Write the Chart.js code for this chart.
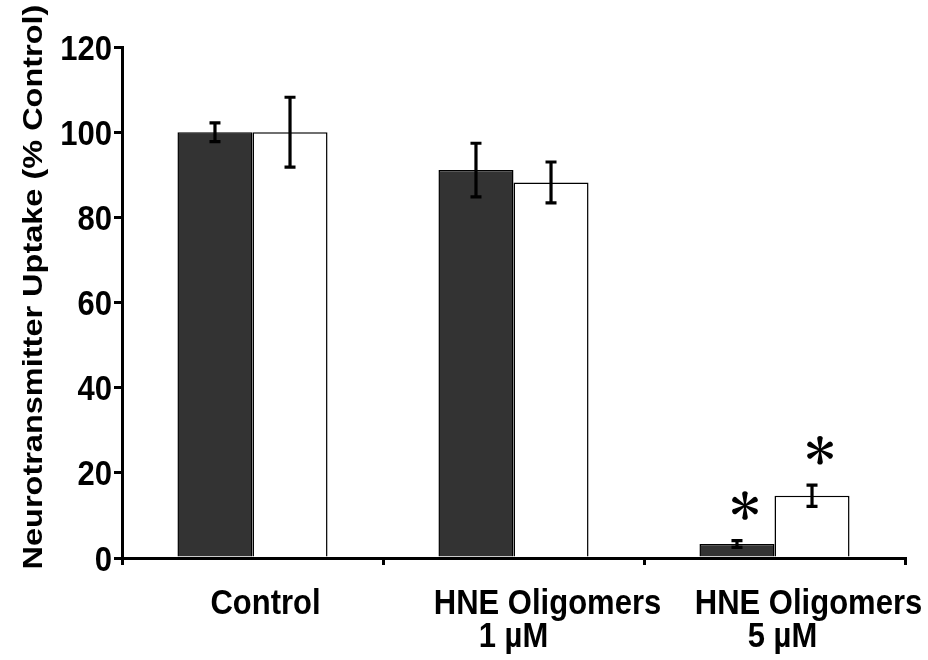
<!DOCTYPE html>
<html>
<head>
<meta charset="utf-8">
<script src="https://cdn.jsdelivr.net/npm/chart.js@4/dist/chart.umd.min.js"></script>
<style>
  html, body { margin: 0; padding: 0; background: #fff; }
  #wrap { width: 928px; height: 660px; }
</style>
</head>
<body>
<div id="wrap"><canvas id="c" width="928" height="660"></canvas></div>
<script>
// Treatment groups (each entry is one line of the axis label)
const categories = [['Control'], ['HNE Oligomers', '1 \u00b5M'], ['HNE Oligomers', '5 \u00b5M']];
// Uptake, % of control: filled (dark) bars and open (white) bars
const darkValues = [100, 91.1, 3.3];
const darkErrors = [2.2, 6.3, 0.8];
const openValues = [100, 88.2, 14.6];
const openErrors = [8.2, 4.8, 2.5];
// Groups marked as significantly different
const darkSignificant = [false, false, true];
const openSignificant = [false, false, true];
const yTicks = [0, 20, 40, 60, 80, 100, 120];
const yTitle = 'Neurotransmitter Uptake (% Control)';

const FONT = '"Liberation Sans", Arial, Helvetica, sans-serif';
const STRETCH = 1.12;
const TITLE_STRETCH = 1.16;

const errorSets = [darkErrors, openErrors];
const markSets = [darkSignificant, openSignificant];

// six teardrop spokes
function drawAsterisk(ctx, cx, cy) {
  ctx.save();
  ctx.fillStyle = '#000';
  const len = 11.5, bulb = 2.8;
  for (let k = 0; k < 6; k++) {
    const a = -Math.PI / 2 + k * Math.PI / 3;
    const ux = Math.cos(a), uy = Math.sin(a);
    const px = -uy, py = ux;
    const ex = cx + ux * len, ey = cy + uy * len;
    ctx.beginPath();
    ctx.moveTo(cx + px * 0.7, cy + py * 0.7);
    ctx.lineTo(ex + px * bulb * 0.9, ey + py * bulb * 0.9);
    ctx.arc(ex, ey, bulb, a + Math.PI / 2, a - Math.PI / 2, true);
    ctx.lineTo(cx - px * 0.7, cy - py * 0.7);
    ctx.closePath();
    ctx.fill();
  }
  ctx.beginPath();
  ctx.arc(cx, cy, 1.4, 0, Math.PI * 2);
  ctx.fill();
  ctx.restore();
}

const decorations = {
  id: 'decorations',
  afterDatasetsDraw(chart) {
    const ctx = chart.ctx;
    const y = chart.scales.y;
    chart.data.datasets.forEach((ds, di) => {
      const meta = chart.getDatasetMeta(di);
      meta.data.forEach((bar, i) => {
        const v = ds.data[i];
        const e = errorSets[di][i];
        const top = y.getPixelForValue(v + e);
        const bot = y.getPixelForValue(v - e);
        ctx.save();
        ctx.strokeStyle = '#000';
        ctx.lineWidth = 3.2;
        ctx.lineCap = 'butt';
        ctx.beginPath();
        ctx.moveTo(bar.x, top); ctx.lineTo(bar.x, bot);
        ctx.moveTo(bar.x - 5.5, top); ctx.lineTo(bar.x + 5.5, top);
        ctx.moveTo(bar.x - 5.5, bot); ctx.lineTo(bar.x + 5.5, bot);
        ctx.stroke();
        ctx.restore();
        if (markSets[di][i]) drawAsterisk(ctx, bar.x + 8, top - 35);
      });
    });
  },
  afterDraw(chart) {
    const ctx = chart.ctx;
    const x = chart.scales.x;
    const y = chart.scales.y;
    ctx.save();
    ctx.fillStyle = '#000';

    // y tick labels
    ctx.font = 'bold 31px ' + FONT;
    yTicks.forEach(t => {
      const py = y.getPixelForValue(t);
      ctx.save();
      ctx.translate(112, py + 12.5);
      ctx.scale(1, STRETCH);
      ctx.textAlign = 'right';
      ctx.textBaseline = 'alphabetic';
      ctx.fillText(String(t), 0, 0);
      ctx.restore();
    });

    // category labels
    ctx.font = 'bold 31px ' + FONT;
    const lineShift = [[13, 0], [34, 0], [34, 8]];
    categories.forEach((lines, i) => {
      const cx = x.getPixelForValue(i);
      lines.forEach((txt, li) => {
        ctx.save();
        ctx.translate(cx + lineShift[i][li], 614 + li * 33);
        ctx.scale(1, STRETCH);
        ctx.textAlign = 'center';
        ctx.textBaseline = 'alphabetic';
        ctx.fillText(txt, 0, 0);
        ctx.restore();
      });
    });

    // rotated axis title
    ctx.save();
    ctx.font = 'bold 28px ' + FONT;
    ctx.translate(42, 287);
    ctx.rotate(-Math.PI / 2);
    ctx.scale(TITLE_STRETCH, 1);
    ctx.textAlign = 'center';
    ctx.textBaseline = 'alphabetic';
    ctx.fillText(yTitle, 0, 0);
    ctx.restore();

    ctx.restore();
  }
};

new Chart(document.getElementById('c'), {
  type: 'bar',
  data: {
    labels: categories.map(l => l.join(' ')),
    datasets: [
      {
        data: darkValues,
        backgroundColor: '#333333',
        borderColor: '#000',
        borderWidth: 1.5,
        barPercentage: 1,
        categoryPercentage: 0.575
      },
      {
        data: openValues,
        backgroundColor: '#ffffff',
        borderColor: '#000',
        borderWidth: 1.5,
        barPercentage: 1,
        categoryPercentage: 0.575
      }
    ]
  },
  options: {
    responsive: false,
    animation: false,
    devicePixelRatio: 1,
    layout: { padding: { top: 47, right: 23, left: 0, bottom: 0 } },
    plugins: { legend: { display: false }, tooltip: { enabled: false } },
    scales: {
      x: {
        type: 'category',
        offset: true,
        grid: { offset: true, drawOnChartArea: false, drawTicks: true, tickLength: 7, color: '#000', lineWidth: 3 },
        border: { display: true, color: '#000', width: 3 },
        ticks: { display: false },
        afterFit(scale) { scale.height = 102; }
      },
      y: {
        min: 0,
        max: 120,
        afterBuildTicks(scale) { scale.ticks = yTicks.map(v => ({ value: v })); },
        grid: { drawOnChartArea: false, drawTicks: true, tickLength: 8, color: '#000', lineWidth: 3 },
        border: { display: true, color: '#000', width: 3 },
        ticks: { display: false },
        afterFit(scale) { scale.width = 122; }
      }
    }
  },
  plugins: [decorations]
});
</script>
</body>
</html>
